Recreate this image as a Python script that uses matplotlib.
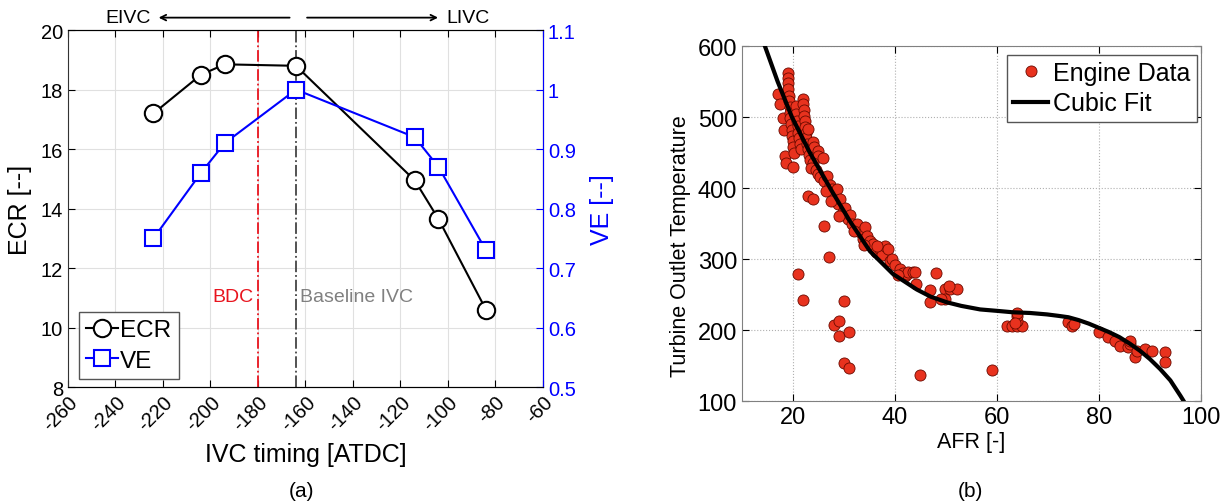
"""Two panels: ECR/VE vs IVC timing (a) and turbine outlet temperature vs AFR (b)."""
import matplotlib
matplotlib.use('Agg')
import matplotlib.pyplot as plt
from matplotlib.ticker import FormatStrFormatter

plt.rcParams['font.family'] = ['Liberation Sans', 'DejaVu Sans']
plt.rcParams['axes.unicode_minus'] = False

# ---- panel (a) ----
IVC = [-224, -204, -194, -164, -114, -104, -84]
ECR = [17.2, 18.5, 18.85, 18.8, 14.95, 13.65, 10.6]
VE = [0.75, 0.86, 0.91, 1.0, 0.92, 0.87, 0.73]
BDC = -180
BASE_IVC = -164

# ---- panel (b) ----
AFR = [17.0, 17.5, 18.0, 18.3, 18.5, 18.6, 19.0, 19.0, 19.0, 19.1, 19.2, 19.3,
       19.4, 19.5, 19.5, 19.6, 19.8, 19.8, 20.0, 20.0, 20.2, 20.0, 20.5, 20.6,
       20.8, 21.0, 21.0, 21.2, 21.4, 21.5,
       22.0, 22.0, 22.1, 22.2, 22.3, 22.4, 22.5, 22.6, 22.8, 22.9, 23.0, 23.2,
       23.4, 23.9, 24.2, 24.9, 25.0, 25.9, 24.0, 23.6, 24.5, 25.0,
       22.9, 23.9, 25.3, 26.0, 26.7, 27.2, 27.6, 28.0, 28.6, 28.8, 29.2, 29.8,
       30.2, 30.8, 31.2, 26.5, 27.4, 29.0,
       31.6, 32.5, 33.1, 33.7, 34.2, 34.5, 35.2, 35.7, 36.2, 37.0, 37.5, 38.0,
       38.6, 39.0, 39.4, 40.0, 41.0, 41.5, 42.0, 42.4, 42.5, 43.5, 43.9, 44.1,
       40.5, 36.5, 32.0, 34.0,
       21.0, 22.0, 27.0, 26.0, 28.0, 29.0, 29.0, 31.0, 30.0, 30.0, 31.0, 45.0,
       59.0, 48.0, 46.9, 46.9, 49.8, 50.8, 52.2, 49.8, 49.0, 50.5,
       62.0, 63.0, 64.0, 65.0, 64.0, 64.0, 64.0, 63.5,
       73.9, 74.7, 75.2,
       80.0, 81.8, 83.1, 84.1, 85.7, 86.1, 86.0, 87.1, 87.5, 89.0, 90.4, 92.9,
       92.9]
T_OUT = [533, 518, 499, 482, 445, 435, 562, 555, 548, 540, 530, 522,
         514, 506, 498, 490, 482, 474, 466, 458, 450, 430, 515, 505,
         495, 488, 478, 470, 462, 455,
         525, 518, 510, 502, 494, 486, 478, 470, 462, 483, 455, 447,
         440, 465, 458, 452, 445, 442, 435, 428, 426, 420,
         389, 385, 415, 410, 417, 405, 398, 392, 399, 377, 385, 366,
         372, 356, 362, 396, 382, 360,
         350, 349, 338, 328, 345, 332, 325, 321, 310, 314, 305, 318,
         314, 297, 300, 292, 286, 281, 276, 279, 282, 282, 282, 265,
         278, 318, 340, 320,
         279, 242, 303, 347, 207, 213, 192, 197, 241, 153, 147, 137,
         143, 280, 256, 239, 258, 258, 258, 244, 244, 262,
         206, 206, 206, 206, 213, 220, 224, 210,
         211, 206, 208,
         197, 190, 185, 178, 176, 180, 184, 162, 170, 173, 170, 169,
         155]

# cubic fit curve
FIT_AFR = [14.5, 17.0, 19.8, 23.3, 27.6, 31.2, 35.1, 39.6, 44.3, 47.0,
           50.2, 53.0, 56.7, 60.0, 63.1, 66.5, 69.8, 72.0, 74.0, 76.0,
           78.0, 80.0, 82.0, 84.0, 86.0, 88.0, 90.0, 92.0, 94.0, 96.0,
           96.6]
FIT_T = [600, 550, 500, 450, 396, 353, 311, 279, 257, 247,
         239, 234, 229, 227, 225, 224, 222, 220, 218, 214,
         209, 203, 197, 190, 181, 171, 159, 145, 129, 107,
         100]

FS = 14


def main():
    fig = plt.figure(figsize=(12.29, 5.02), dpi=100)

    # ---------- (a) ----------
    ax = fig.add_axes([0.0553, 0.227, 0.3865, 0.711])
    ax2 = ax.twinx()
    ax.grid(True, color='#e0e0e0', lw=0.8)
    ax.set_axisbelow(True)

    ax.axvline(BDC, color='#e8141e', ls='-.', lw=1.3)
    ax.axvline(BASE_IVC, color='#444444', ls='-.', lw=1.3)

    l1, = ax.plot(IVC, ECR, '-o', color='black', lw=1.5, ms=12.5,
                  mfc='white', mew=1.5, label='ECR', zorder=4)
    l2, = ax2.plot(IVC, VE, '-s', color='#0000ff', lw=1.5, ms=11,
                   mfc='white', mew=1.5, label='VE', zorder=4)

    ax.set_xlim(-260, -60)
    ax.set_ylim(8, 20)
    ax2.set_ylim(0.5, 1.1)
    ax.set_xticks(range(-260, -59, 20))
    ax.set_yticks(range(8, 21, 2))
    ax2.set_yticks([0.5, 0.6, 0.7, 0.8, 0.9, 1.0, 1.1])
    ax2.yaxis.set_major_formatter(FormatStrFormatter('%g'))
    ax.tick_params(direction='in', labelsize=FS + 0.5, length=5, top=True)
    ax2.tick_params(direction='in', labelsize=FS + 0.5, length=5,
                    colors='#0000ff')
    for lab in ax.get_xticklabels():
        lab.set_rotation(45)
        lab.set_ha('right')
        lab.set_rotation_mode('anchor')
    for sp in ('left', 'bottom', 'top'):
        ax.spines[sp].set_color('#333333')
    ax2.spines['right'].set_color('#0000ff')
    ax2.spines['left'].set_visible(False)

    ax.set_xlabel('IVC timing [ATDC]', fontsize=18, labelpad=6)
    ax.set_ylabel('ECR [--]', fontsize=18, labelpad=6)
    ax2.set_ylabel('VE [--]', fontsize=18, color='#0000ff', labelpad=10)

    ax.text(BDC - 2, 11.05, 'BDC', color='#e8141e', fontsize=FS,
            ha='right', va='center')
    ax.text(BASE_IVC + 1.5, 11.05, 'Baseline IVC', color='#808080',
            fontsize=FS, ha='left', va='center')

    # EIVC / LIVC arrows above the axes
    tr = ax.get_xaxis_transform()
    yarr = 1.035
    ax.annotate('', xy=(-223, yarr), xytext=(-165.5, yarr), xycoords=tr,
                textcoords=tr, annotation_clip=False,
                arrowprops=dict(arrowstyle='->', color='black', lw=1.3))
    ax.annotate('', xy=(-103, yarr), xytext=(-160.5, yarr), xycoords=tr,
                textcoords=tr, annotation_clip=False,
                arrowprops=dict(arrowstyle='->', color='black', lw=1.3))
    ax.text(-225, yarr, 'EIVC', transform=tr, ha='right', va='center',
            fontsize=FS)
    ax.text(-100.5, yarr, 'LIVC', transform=tr, ha='left', va='center',
            fontsize=FS)

    leg = ax.legend(handles=[l1, l2], loc='lower left', fontsize=17.5,
                    handlelength=1.3, handletextpad=0.1, borderpad=0.3,
                    labelspacing=0.35, fancybox=False, framealpha=1,
                    edgecolor='#555555', borderaxespad=0,
                    bbox_to_anchor=(0.023, 0.022))
    leg.set_zorder(10)
    fig.text(0.245, 0.02, '(a)', ha='center', va='center', fontsize=FS + 1)

    # ---------- (b) ----------
    bx = fig.add_axes([0.6037, 0.1992, 0.3735, 0.707])
    bx.grid(True, color='#b0b0b0', ls=':', lw=0.8)
    bx.set_axisbelow(True)
    bx.plot(AFR, T_OUT, 'o', ms=8, mfc='#e8321e', mec='#6a0a00',
            mew=0.6, label='Engine Data', zorder=3)
    bx.plot(FIT_AFR, FIT_T, '-', color='black', lw=3, label='Cubic Fit',
            zorder=4)
    bx.set_xlim(10, 100)
    bx.set_ylim(100, 600)
    bx.set_xticks([20, 40, 60, 80, 100])
    bx.set_yticks(range(100, 601, 100))
    bx.tick_params(direction='in', labelsize=17, length=5, top=True,
                   right=True)
    for sp in bx.spines.values():
        sp.set_color('#808080')
    bx.set_xlabel('AFR [-]', fontsize=15.5, labelpad=2)
    bx.set_ylabel('Turbine Outlet Temperature', fontsize=15.5)
    bx.yaxis.set_label_coords(-0.11, 0.44)
    bx.legend(loc='upper right', fontsize=18, handlelength=1.4,
              handletextpad=0.2, borderpad=0.25, labelspacing=0.25,
              fancybox=False, framealpha=1, edgecolor='#555555',
              borderaxespad=0, bbox_to_anchor=(0.991, 0.975))
    fig.text(0.79, 0.02, '(b)', ha='center', va='center', fontsize=FS + 1)

    fig.savefig('out.png', dpi=100)
    plt.close(fig)


if __name__ == '__main__':
    main()
